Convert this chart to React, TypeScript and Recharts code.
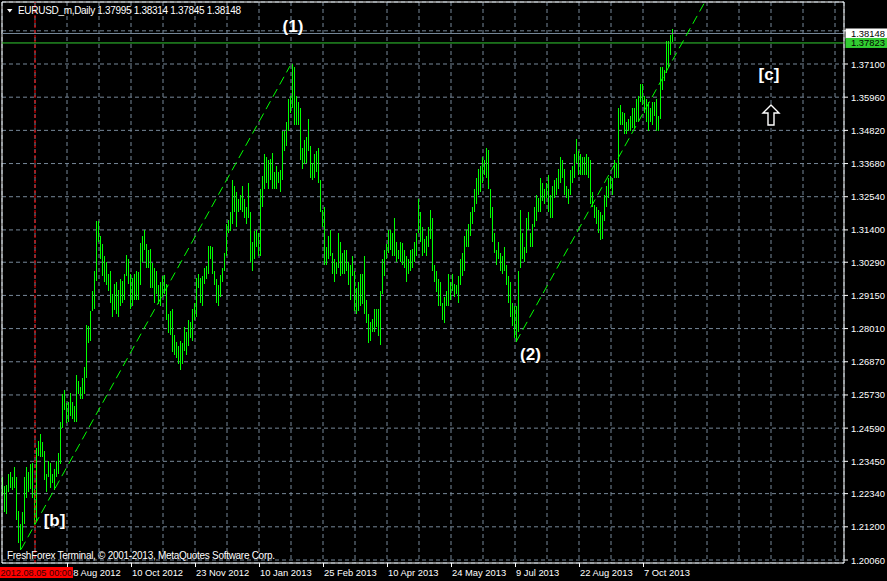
import React from 'react';
import {
  ComposedChart,
  Bar,
  XAxis,
  YAxis,
  CartesianGrid,
  ReferenceLine,
  ReferenceDot,
} from 'recharts';

// ---------- DATA ----------
const highs = [
  1.2290, 1.2260, 1.2265,
  1.2300, 1.2310, 1.2290, 1.2325, 1.2290,
  1.2175, 1.2130, 1.2170, 1.2290, 1.2325,
  1.2310, 1.2335, 1.2340, 1.2250, 1.2390,
  1.2415, 1.2440, 1.2410, 1.2380, 1.2300,
  1.2345, 1.2340, 1.2300, 1.2320, 1.2345,
  1.2375, 1.2480, 1.2575, 1.2590, 1.2545,
  1.2550, 1.2580, 1.2550, 1.2535, 1.2640,
  1.2620, 1.2600, 1.2630, 1.2670, 1.2815,
  1.2810, 1.2860, 1.2930, 1.3000, 1.3170,
  1.3170, 1.3120, 1.3090, 1.3050, 1.3030,
  1.2990, 1.3000, 1.2920, 1.2955, 1.2960,
  1.2935, 1.2970, 1.2965, 1.2990, 1.3055,
  1.3040, 1.2990, 1.2975, 1.2990, 1.3000,
  1.2995, 1.3095, 1.3120, 1.3140, 1.3090,
  1.3070, 1.3075, 1.3025, 1.3010, 1.3000,
  1.2950, 1.2960, 1.2980, 1.2985, 1.2955,
  1.2850, 1.2860, 1.2870, 1.2780, 1.2755,
  1.2740, 1.2760, 1.2750, 1.2805, 1.2790,
  1.2830, 1.2825, 1.2870, 1.2890, 1.2975,
  1.2990, 1.2975, 1.2980, 1.3010, 1.3015,
  1.3085, 1.3085, 1.3080, 1.3000, 1.2970,
  1.2950, 1.2985, 1.3010, 1.3060, 1.3160,
  1.3175, 1.3200, 1.3310, 1.3290, 1.3270,
  1.3245, 1.3260, 1.3290, 1.3245,
  1.3220, 1.3300, 1.3200, 1.3100,
  1.3135, 1.3140, 1.3130, 1.3280, 1.3325,
  1.3400, 1.3390, 1.3380, 1.3385, 1.3405,
  1.3340, 1.3360, 1.3340, 1.3345, 1.3480,
  1.3480, 1.3510, 1.3590, 1.3600, 1.3710,
  1.3700, 1.3600, 1.3580, 1.3560, 1.3420,
  1.3450, 1.3460, 1.3520, 1.3430, 1.3370,
  1.3400, 1.3410, 1.3420, 1.3310, 1.3210,
  1.3220, 1.3080, 1.3120, 1.3140, 1.3060,
  1.3040, 1.3030, 1.3130, 1.3100, 1.3060,
  1.3070, 1.3070, 1.3030, 1.3020, 1.3050,
  1.3000, 1.2940, 1.2960, 1.2990, 1.2990,
  1.3050, 1.2900, 1.2850, 1.2825, 1.2835,
  1.2870, 1.2870, 1.2870, 1.2930, 1.3040,
  1.3070, 1.3090, 1.3140, 1.3140, 1.3130,
  1.3180, 1.3100, 1.3070, 1.3100, 1.3095,
  1.3070, 1.3050, 1.3040, 1.3070, 1.3075,
  1.3100, 1.3130, 1.3245, 1.3200, 1.3150,
  1.3110, 1.3120, 1.3150, 1.3210, 1.3180,
  1.3020, 1.3000, 1.2970, 1.2960, 1.2890,
  1.2910, 1.2930, 1.2990, 1.2960, 1.2990,
  1.2955, 1.2950, 1.2980, 1.3040, 1.3060,
  1.3120, 1.3140, 1.3160, 1.3200, 1.3220,
  1.3280, 1.3320, 1.3350, 1.3360, 1.3390,
  1.3380, 1.3420, 1.3415, 1.3280, 1.3220,
  1.3130, 1.3070, 1.3100, 1.3060, 1.3050,
  1.3080, 1.3020, 1.2980, 1.2960, 1.2890,
  1.2880, 1.2880, 1.3000, 1.3210, 1.3130,
  1.3080, 1.3180, 1.3200, 1.3130, 1.3160,
  1.3220, 1.3260, 1.3250, 1.3320, 1.3300,
  1.3280, 1.3300, 1.3330, 1.3260, 1.3290,
  1.3310, 1.3320, 1.3350, 1.3390, 1.3380,
  1.3350, 1.3290, 1.3280, 1.3345, 1.3360,
  1.3400, 1.3452, 1.3410, 1.3400, 1.3390,
  1.3390, 1.3400, 1.3390, 1.3380, 1.3270,
  1.3225, 1.3220, 1.3210, 1.3200, 1.3190,
  1.3260, 1.3290, 1.3320, 1.3325, 1.3320,
  1.3380, 1.3370, 1.3560, 1.3570, 1.3545,
  1.3540, 1.3510, 1.3520, 1.3530, 1.3560,
  1.3560, 1.3590, 1.3600, 1.3640, 1.3640,
  1.3600, 1.3590, 1.3580, 1.3560, 1.3580,
  1.3580, 1.3590, 1.3530, 1.3700, 1.3700,
  1.3690, 1.3790, 1.3790, 1.3810, 1.38314,
];

const lows = [
  1.2230, 1.2170, 1.2165,
  1.2240, 1.2255, 1.2245, 1.2255, 1.2145,
  1.2065, 1.2042, 1.2070, 1.2130, 1.2220,
  1.2240, 1.2250, 1.2220, 1.2130, 1.2140,
  1.2365, 1.2360, 1.2360, 1.2280, 1.2240,
  1.2290, 1.2255, 1.2270, 1.2245, 1.2290,
  1.2300, 1.2335, 1.2460, 1.2520, 1.2475,
  1.2480, 1.2500, 1.2490, 1.2480, 1.2480,
  1.2575, 1.2560, 1.2560, 1.2575, 1.2630,
  1.2750, 1.2760, 1.2860, 1.2870, 1.2965,
  1.3100, 1.3040, 1.2980, 1.2960, 1.2950,
  1.2930, 1.2890, 1.2840, 1.2865, 1.2850,
  1.2840, 1.2880, 1.2890, 1.2900, 1.2980,
  1.2955, 1.2870, 1.2880, 1.2900, 1.2900,
  1.2900, 1.2950, 1.3030, 1.3070, 1.3010,
  1.3010, 1.2940, 1.2940, 1.2890, 1.2920,
  1.2885, 1.2880, 1.2910, 1.2920, 1.2830,
  1.2785, 1.2780, 1.2720, 1.2710, 1.2700,
  1.2680, 1.2660, 1.2680, 1.2725, 1.2710,
  1.2740, 1.2770, 1.2760, 1.2830, 1.2840,
  1.2940, 1.2890, 1.2880, 1.2955, 1.2970,
  1.2990, 1.3040, 1.2990, 1.2950, 1.2890,
  1.2880, 1.2910, 1.2960, 1.3000, 1.3050,
  1.3130, 1.3135, 1.3160, 1.3200, 1.3150,
  1.3200, 1.3210, 1.3200, 1.3180,
  1.3160, 1.3180, 1.3030, 1.2998,
  1.3040, 1.3080, 1.3050, 1.3050, 1.3220,
  1.3280, 1.3300, 1.3280, 1.3310, 1.3280,
  1.3280, 1.3280, 1.3300, 1.3270, 1.3310,
  1.3410, 1.3430, 1.3480, 1.3540, 1.3560,
  1.3500, 1.3500, 1.3500, 1.3380, 1.3350,
  1.3365, 1.3370, 1.3410, 1.3320, 1.3310,
  1.3320, 1.3340, 1.3300, 1.3200, 1.3150,
  1.3020, 1.3020, 1.3040, 1.3050, 1.2990,
  1.2960, 1.2990, 1.3010, 1.2980, 1.2990,
  1.2990, 1.3000, 1.2950, 1.2900, 1.2980,
  1.2860, 1.2850, 1.2860, 1.2880, 1.2885,
  1.2850, 1.2820, 1.2750, 1.2760, 1.2790,
  1.2790, 1.2805, 1.2775, 1.2745, 1.2920,
  1.2980, 1.3040, 1.3060, 1.3070, 1.3050,
  1.3050, 1.3030, 1.3040, 1.3030, 1.3020,
  1.3010, 1.2960, 1.2990, 1.3000, 1.3010,
  1.3030, 1.3050, 1.3130, 1.3100, 1.3050,
  1.3060, 1.3050, 1.3080, 1.3110, 1.3000,
  1.2960, 1.2925, 1.2880, 1.2880, 1.2830,
  1.2820, 1.2880, 1.2880, 1.2900, 1.2930,
  1.2910, 1.2920, 1.2890, 1.2950, 1.2980,
  1.3000, 1.3080, 1.3080, 1.3120, 1.3160,
  1.3200, 1.3230, 1.3260, 1.3270, 1.3300,
  1.3330, 1.3320, 1.3280, 1.3180, 1.3100,
  1.3060, 1.3020, 1.3040, 1.3000, 1.2990,
  1.3000, 1.2950, 1.2890, 1.2840, 1.2810,
  1.2770, 1.2755, 1.2790, 1.3010, 1.3040,
  1.3030, 1.3060, 1.3140, 1.3080, 1.3080,
  1.3150, 1.3170, 1.3200, 1.3200, 1.3240,
  1.3230, 1.3250, 1.3200, 1.3180, 1.3180,
  1.3250, 1.3260, 1.3280, 1.3300, 1.3320,
  1.3260, 1.3250, 1.3230, 1.3260, 1.3300,
  1.3320, 1.3370, 1.3330, 1.3330, 1.3330,
  1.3330, 1.3330, 1.3320, 1.3230, 1.3220,
  1.3180, 1.3160, 1.3130, 1.3105, 1.3110,
  1.3170, 1.3220, 1.3250, 1.3280, 1.3260,
  1.3320, 1.3320, 1.3320, 1.3500, 1.3500,
  1.3470, 1.3470, 1.3480, 1.3480, 1.3490,
  1.3490, 1.3510, 1.3510, 1.3580, 1.3570,
  1.3540, 1.3510, 1.3480, 1.3510, 1.3500,
  1.3530, 1.3480, 1.3480, 1.3520, 1.3620,
  1.3650, 1.3680, 1.3700, 1.3740, 1.37845,
];

const yTicks = [
  1.2006, 1.212, 1.2234, 1.2345, 1.2459, 1.2573, 1.2687, 1.2801, 1.2915,
  1.3029, 1.314, 1.3254, 1.3368, 1.3482, 1.3596, 1.371, 1.3824,
];
// grid ticks; the separator bar (16) is listed last so its red time box is drawn above the others
const xGridTicks = [
  32, 48, 64, 80, 96, 112, 128, 144, 160, 176, 192, 208, 224, 240, 256,
  272, 288, 304, 320, 336, 352, 368, 384, 400, 416, 16,
];
const xLabelTicks = [32, 64, 96, 128, 160, 192, 224, 256, 288, 320];
const xLabels = [
  '28 Aug 2012', '10 Oct 2012', '23 Nov 2012', '10 Jan 2013', '25 Feb 2013',
  '10 Apr 2013', '24 May 2013', '9 Jul 2013', '22 Aug 2013', '7 Oct 2013',
];

const bidPrice = 1.38148;
const levelPrice = 1.37823;
const separatorBar = 16;
const separatorLabel = '2012.08.05 00:00';
const titleText = 'EURUSD_m,Daily  1.37995 1.38314 1.37845 1.38148';
const copyrightText = 'FreshForex Terminal, \u00A9 2001-2013, MetaQuotes Software Corp.';

const trendLines = [
  [{ x: 9, y: 1.2042 }, { x: 143.5, y: 1.3703 }],
  [{ x: 256.5, y: 1.2755 }, { x: 351.5, y: 1.393 }],
];

const annotations = [
  { text: '(1)', x: 145, y: 1.382 },
  { text: '(2)', x: 263.75, y: 1.2693 },
  { text: '[b]', x: 25.75, y: 1.2123 },
  { text: '[c]', x: 383, y: 1.3655 },
];
const arrowAnchor = { x: 384, y: 1.3535 };

// ---------- STYLE ----------
const X_DOMAIN: [number, number] = [-0.5, 420.5];
const Y_DOMAIN: [number, number] = [1.19957, 1.3923];
const BAR_COLOR = '#00ff00';
const GRID_COLOR = '#778899';
const LEVEL_COLOR = '#32cd32';
const FONT = '"Liberation Sans", Arial, sans-serif';

const data = highs.map((h, i) => ({ i, hl: [lows[i], h] }));

const OhlcBar = (p: any) => {
  const { x, y, width, height } = p;
  if (x == null || y == null || isNaN(x) || isNaN(y)) return null;
  const cx = Math.floor(x + width / 2) + 0.5;
  return (
    <line
      x1={cx}
      x2={cx}
      y1={y}
      y2={y + Math.max(height, 1)}
      stroke={BAR_COLOR}
      strokeWidth={1}
      shapeRendering="crispEdges"
    />
  );
};

const YTick = (p: any) => {
  const v = p.payload.value;
  if (v > 1.38) return null;
  return (
    <text x={p.x} y={p.y + 3.5} fill="#ffffff" fontSize={9.4} fontFamily={FONT} textAnchor="start">
      {v.toFixed(5)}
    </text>
  );
};

const XTick = (p: any) => {
  const v = p.payload.value;
  if (v === separatorBar) {
    return (
      <g>
        <rect x={p.x - 35} y={p.y + 4} width={73} height={11} fill="#ff0000" />
        <text x={p.x - 34.5} y={p.y + 13} fill="#3a0000" fontSize={9.2} fontFamily={FONT}>
          {separatorLabel}
        </text>
      </g>
    );
  }
  const idx = xLabelTicks.indexOf(v);
  if (idx < 0) return null;
  const x = Math.round(p.x) + 0.5;
  return (
    <g>
      <line x1={x} x2={x} y1={p.y} y2={p.y + 4} stroke="#ffffff" shapeRendering="crispEdges" />
      <text x={x + 0.5} y={p.y + 13} fill="#ffffff" fontSize={9.4} fontFamily={FONT} textAnchor="start">
        {xLabels[idx]}
      </text>
    </g>
  );
};

const priceBox = (value: number, bg: string) => (props: any) => {
  const vb = props.viewBox;
  if (!vb) return null;
  const x = vb.x + vb.width + 1.5;
  return (
    <g>
      <rect x={x} y={vb.y - 5} width={42} height={10} fill={bg} />
      <text x={x + 5.5} y={vb.y + 3.5} fill="#000000" fontSize={9.4} fontFamily={FONT}>
        {value.toFixed(5)}
      </text>
    </g>
  );
};

const annotationShape = (text: string) => (p: any) => (
  <text
    x={p.cx}
    y={p.cy}
    fill="#ffffff"
    fontSize={17}
    fontWeight="bold"
    fontFamily={FONT}
    textAnchor="middle"
  >
    {text}
  </text>
);

const arrowShape = (p: any) => {
  const { cx, cy } = p;
  const pts = [
    [0, -10], [8, -2], [3, -2], [3, 10], [-3, 10], [-3, -2], [-8, -2],
  ]
    .map(([dx, dy]) => `${cx + dx},${cy + dy}`)
    .join(' ');
  return <polygon points={pts} fill="#000000" stroke="#ffffff" strokeWidth={1.4} />;
};

export default function App() {
  return (
    <div
      style={{
        position: 'absolute',
        left: 0,
        top: 0,
        width: 887,
        height: 581,
        background: '#000000',
        overflow: 'hidden',
      }}
    >
      <ComposedChart
        width={887}
        height={581}
        data={data}
        margin={{ top: 2, right: 0, bottom: 0, left: 2 }}
        style={{ background: '#000000' }}
      >
        <CartesianGrid stroke={GRID_COLOR} strokeDasharray="4 3" horizontal vertical />
        <XAxis
          type="number"
          dataKey="i"
          scale="linear"
          domain={X_DOMAIN}
          ticks={xGridTicks}
          interval={0}
          allowDataOverflow
          height={18}
          tickSize={0}
          tickMargin={0}
          tickLine={false}
          axisLine={{ stroke: '#ffffff' }}
          tick={<XTick />}
        />
        <YAxis
          orientation="right"
          type="number"
          domain={Y_DOMAIN}
          ticks={yTicks}
          interval={0}
          allowDataOverflow
          width={43}
          tickSize={4}
          tickMargin={3}
          tickLine={{ stroke: '#ffffff' }}
          axisLine={{ stroke: '#ffffff' }}
          tick={<YTick />}
        />
        <ReferenceLine x={X_DOMAIN[0]} stroke="#ffffff" />
        <ReferenceLine y={Y_DOMAIN[1]} stroke="#ffffff" />
        <ReferenceLine x={separatorBar} stroke="#ff0000" strokeDasharray="3 2" />
        <ReferenceLine y={bidPrice} stroke={GRID_COLOR} label={priceBox(bidPrice, '#ffffff')} />
        <ReferenceLine y={levelPrice} stroke={LEVEL_COLOR} label={priceBox(levelPrice, LEVEL_COLOR)} />
        {trendLines.map((seg, k) => (
          <ReferenceLine
            key={'t' + k}
            segment={seg}
            stroke={BAR_COLOR}
            strokeDasharray="9 5"
            ifOverflow="visible"
          />
        ))}
        <Bar dataKey="hl" barSize={1} shape={OhlcBar} isAnimationActive={false} />
        {annotations.map((a, k) => (
          <ReferenceDot
            key={'a' + k}
            x={a.x}
            y={a.y}
            r={0}
            ifOverflow="visible"
            shape={annotationShape(a.text)}
          />
        ))}
        <ReferenceDot x={arrowAnchor.x} y={arrowAnchor.y} r={0} ifOverflow="visible" shape={arrowShape} />
      </ComposedChart>
      <svg
        width={887}
        height={581}
        style={{ position: 'absolute', left: 0, top: 0, pointerEvents: 'none' }}
      >
        <polygon points="7,9 12.5,9 9.75,12.5" fill="#ffffff" />
        <text x={18} y={14} fill="#ffffff" fontSize={10} fontFamily={FONT} textLength={223} lengthAdjust="spacing">
          {titleText}
        </text>
        <text x={7} y={559} fill="#ffffff" fontSize={10} fontFamily={FONT} textLength={268} lengthAdjust="spacing">
          {copyrightText}
        </text>
      </svg>
    </div>
  );
}
